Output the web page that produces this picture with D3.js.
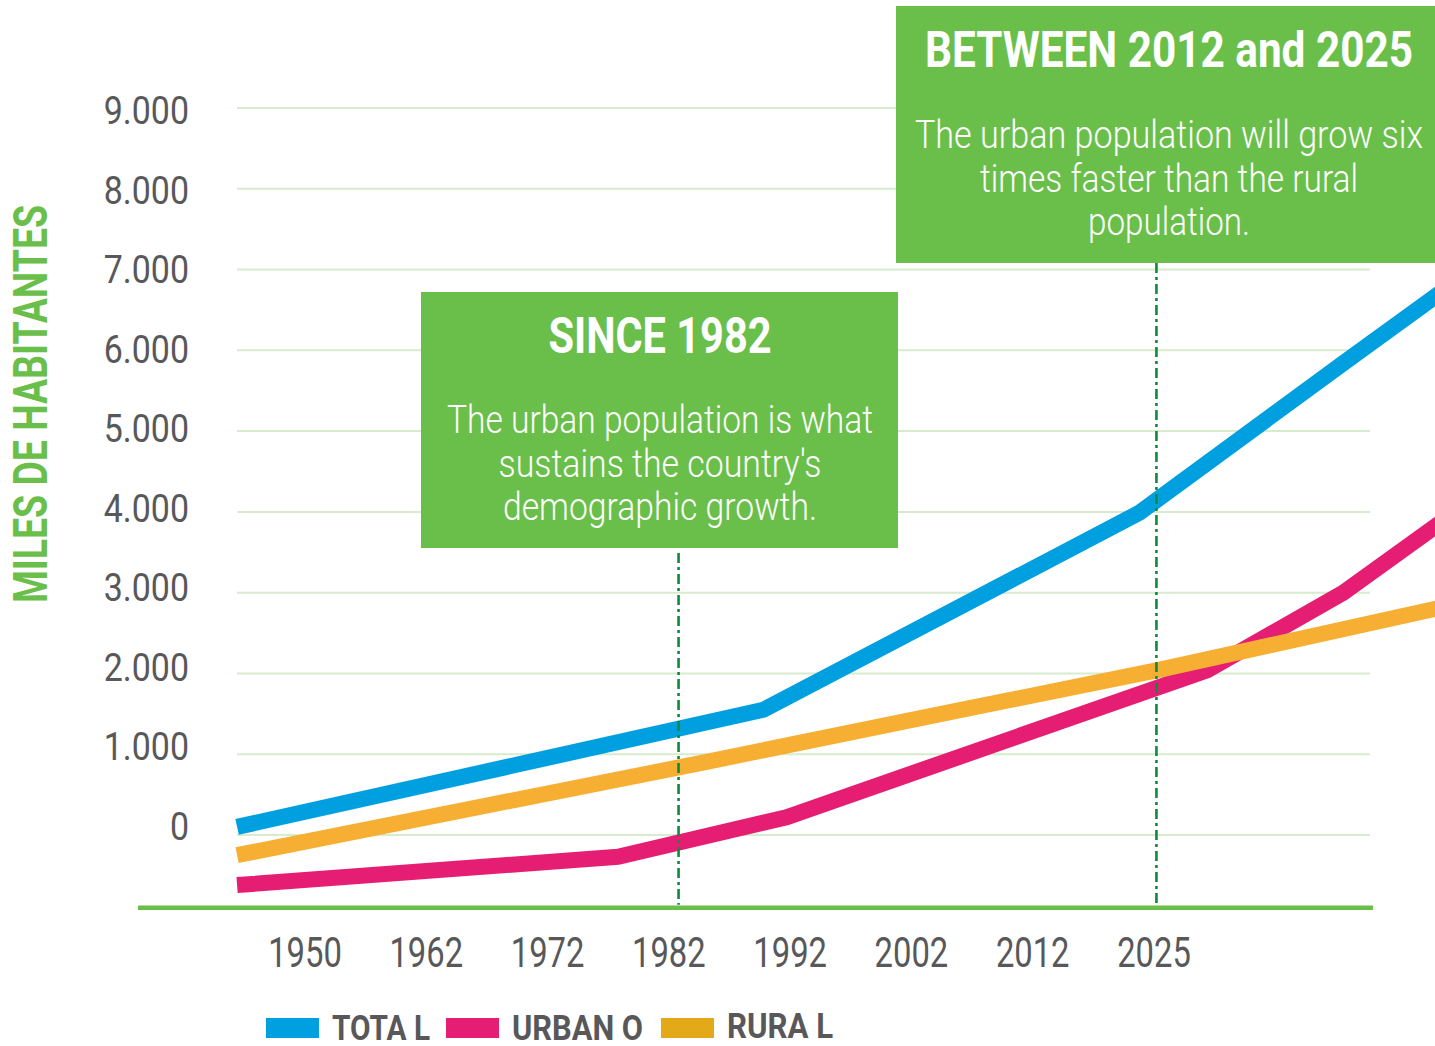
<!DOCTYPE html>
<html>
<head>
<meta charset="utf-8">
<script src="https://cdn.jsdelivr.net/npm/d3@7"></script>
<style>
  html, body { margin: 0; padding: 0; background: #fff; }
  svg { display: block; }
  text { font-family: Roboto, 'Liberation Sans', sans-serif; }
</style>
</head>
<body>
<svg id="chart"></svg>
<script>
// x positions are in "tick slots" (0 = 1950 ... 7 = 2025), lines run past both ends
var yearLabels = ['1950', '1962', '1972', '1982', '1992', '2002', '2012', '2025'];
var yTicks = [0, 1000, 2000, 3000, 4000, 5000, 6000, 7000, 8000, 9000];

var totalX = [-0.56, 3.78, 6.88, 8.56, 9.44];
var totalY = [100, 1550, 3990, 5840, 6800];

var urbanX = [-0.56, 2.58, 3.97, 7.44, 8.56, 9.44];
var urbanY = [-620, -270, 220, 2040, 3000, 3950];

var ruralX = [-0.56, 3.26, 5.48, 7.03, 9.44];
var ruralY = [-250, 890, 1570, 2040, 2840];

var seriesNames = ['TOTA L', 'URBAN O', 'RURA L'];

var note1Title = 'SINCE 1982';
var note1Lines = ['The urban population is what', "sustains the country's", 'demographic growth.'];
var note2Title = 'BETWEEN 2012 and 2025';
var note2Lines = ['The urban population will grow six', 'times faster than the rural', 'population.'];
var markerX = [3.08, 7.02];

const W = 1435, H = 1046;
const green = '#6abf4b';
const grey = '#58585a';

var svg = d3.select('#chart').attr('width', W).attr('height', H);

var x = d3.scaleLinear().domain([0, yearLabels.length - 1]).range([305, 1154]);
var y = d3.scaleLinear().domain([0, 9000]).range([835, 108]);
// labels sit a little off the gridlines in the original
var yLab = d3.scaleLinear().domain([0, 9000]).range([840, 124]);

var fmt = d3.formatLocale({ decimal: ',', thousands: '.', grouping: [3], currency: ['', ''] }).format(',');

// squeeze text horizontally to mimic a condensed face
const condense = (sel, k) => {
    sel.each(function() {
        var w = this.getComputedTextLength();
        d3.select(this).attr('textLength', w * k).attr('lengthAdjust', 'spacingAndGlyphs');
    });
};

// gridlines
svg.append('g')
    .selectAll('line')
    .data(yTicks)
    .enter()
    .append('line')
    .attr('x1', 237)
    .attr('x2', 1370)
    .attr('y1', d => y(d))
    .attr('y2', d => y(d))
    .attr('stroke', '#d7ebcd')
    .attr('stroke-width', 2);

// y labels
var yl = svg.append('g')
    .selectAll('text')
    .data(yTicks)
    .enter()
    .append('text')
    .attr('x', 189)
    .attr('y', d => yLab(d))
    .attr('text-anchor', 'end')
    .attr('font-size', 39)
    .attr('fill', grey)
    .text(d => fmt(d));
condense(yl, 0.87);

// y title
svg.append('text')
    .attr('transform', 'translate(47,404) rotate(-90)')
    .attr('text-anchor', 'middle')
    .attr('font-size', 48)
    .attr('font-weight', 'bold')
    .attr('fill', green)
    .attr('textLength', 398)
    .attr('lengthAdjust', 'spacingAndGlyphs')
    .text('MILES DE HABITANTES');

// baseline
svg.append('line')
    .attr('x1', 138)
    .attr('x2', 1373)
    .attr('y1', y(-900))
    .attr('y2', y(-900))
    .attr('stroke', green)
    .attr('stroke-width', 4.5);

// x labels
var xl = svg.append('g')
    .selectAll('text')
    .data(yearLabels)
    .enter()
    .append('text')
    .attr('x', (d, i) => x(i))
    .attr('y', 967)
    .attr('text-anchor', 'middle')
    .attr('font-size', 42)
    .attr('fill', grey)
    .text(d => d);
condense(xl, 0.78);

// series lines
var series = [
    { name: seriesNames[1], xs: urbanX, ys: urbanY, color: '#e61e73', key: '#e61e73' },
    { name: seriesNames[2], xs: ruralX, ys: ruralY, color: '#f7af33', key: '#e4a919' },
    { name: seriesNames[0], xs: totalX, ys: totalY, color: '#009fe0', key: '#009fe0' }
];

var line = d3.line()
    .x(d => x(d[0]))
    .y(d => y(d[1]));

svg.append('g')
    .selectAll('path')
    .data(series)
    .enter()
    .append('path')
    .attr('fill', 'none')
    .attr('stroke', d => d.color)
    .attr('stroke-width', 16)
    .attr('d', d => line(d3.zip(d.xs, d.ys)));

// marker lines for the two notes
var markTop = [553, 263];
svg.append('g')
    .selectAll('line')
    .data(markerX)
    .enter()
    .append('line')
    .attr('x1', d => x(d))
    .attr('x2', d => x(d))
    .attr('y1', (d, i) => markTop[i])
    .attr('y2', y(-900) - 3)
    .attr('stroke', '#0b8c3c')
    .attr('stroke-width', 2.6)
    .attr('stroke-dasharray', '10,4,3,4');

// note boxes
const addNote = (bx, by, bw, bh, cx, title, titleY, titleW, lines, lineY, lineW) => {
    var g = svg.append('g');
    g.append('rect')
        .attr('x', bx).attr('y', by)
        .attr('width', bw).attr('height', bh)
        .attr('fill', green);
    g.append('text')
        .attr('x', cx).attr('y', titleY)
        .attr('text-anchor', 'middle')
        .attr('font-size', 50)
        .attr('font-weight', 'bold')
        .attr('fill', '#fff')
        .attr('textLength', titleW)
        .attr('lengthAdjust', 'spacingAndGlyphs')
        .text(title);
    g.selectAll('.body')
        .data(lines)
        .enter()
        .append('text')
        .attr('class', 'body')
        .attr('x', cx)
        .attr('y', (d, i) => lineY[i])
        .attr('text-anchor', 'middle')
        .attr('font-size', 38)
        .attr('font-weight', 300)
        .attr('fill', '#fff')
        .attr('textLength', (d, i) => lineW[i])
        .attr('lengthAdjust', 'spacingAndGlyphs')
        .text(d => d);
};

addNote(421, 292, 477, 256, 660, note1Title, 353, 223, note1Lines, [433, 477, 520], [426, 323, 314]);
addNote(896, 6, 560, 257, 1169, note2Title, 67, 488, note2Lines, [148, 192, 235], [508, 378, 162]);

// legend
var legend = svg.append('g');
var legendOrder = [series[2], series[0], series[1]];
var swatchX = [266, 446, 661];
var labelW = [98, 131, 106];
legendOrder.forEach((s, i) => {
    legend.append('rect')
        .attr('x', swatchX[i]).attr('y', 1018)
        .attr('width', 53).attr('height', 20)
        .attr('fill', s.key);
    legend.append('text')
        .attr('x', swatchX[i] + 66).attr('y', 1040 - (i == 2 ? 2 : 0))
        .attr('font-size', 35)
        .attr('font-weight', 'bold')
        .attr('fill', grey)
        .attr('textLength', labelW[i])
        .attr('lengthAdjust', 'spacingAndGlyphs')
        .text(s.name);
});
</script>
</body>
</html>
